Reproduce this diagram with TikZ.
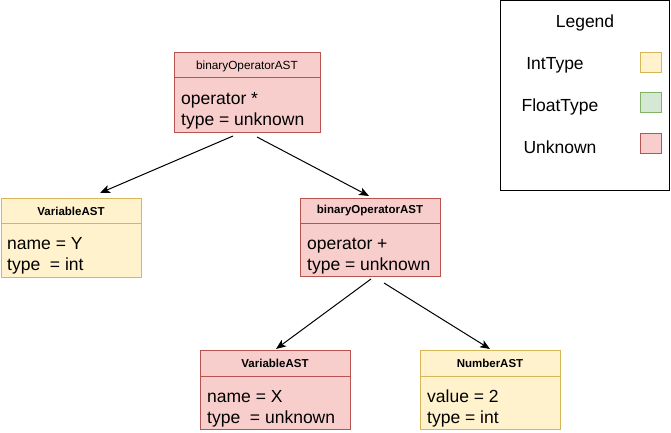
\documentclass[tikz,border=0pt]{standalone}
\usepackage{fontspec}
\setmainfont{Liberation Sans}
\usetikzlibrary{arrows.meta}
\definecolor{ylwF}{HTML}{FFF2CC}\definecolor{ylwD}{HTML}{D6B656}
\definecolor{grnF}{HTML}{D5E8D4}\definecolor{grnD}{HTML}{82B366}
\definecolor{redF}{HTML}{F8CECC}\definecolor{redD}{HTML}{B85450}
\tikzset{
  ybox/.style={draw=ylwD,fill=ylwF,line width=1pt},
  gbox/.style={draw=grnD,fill=grnF,line width=1pt},
  rbox/.style={draw=redD,fill=redF,line width=1pt},
  hdr/.style={anchor=center,inner sep=0pt,font=\fontsize{11.8}{14}\selectfont},
  hdrb/.style={anchor=center,inner sep=0pt,font=\fontsize{11.5}{14}\selectfont\bfseries},
  body/.style={anchor=base west,inner sep=0pt,font=\fontsize{17.5}{20}\selectfont},
  leg/.style={anchor=base,inner sep=0pt,font=\fontsize{17.5}{20}\selectfont},
  conn/.style={line width=1pt,-{Stealth[length=10pt,width=8pt,inset=2.5pt]}},
}
\begin{document}
\begin{tikzpicture}[x=1pt,y=-1pt]
\useasboundingbox (0,0) rectangle (671,433);
% top binary operator
\draw[rbox] (174,53) rectangle (320,132);
\draw[draw=redD,line width=1pt] (174,78) -- (320,78);
\node[hdr] (topH) at (247,66) {binaryOperatorAST};
\node[body] (topL1) at (181,104) {operator *};
\node[body] (topL2) at (181,125) {type = unknown};
% VariableAST Y
\draw[ybox] (1,198) rectangle (141,277);
\draw[draw=ylwD,line width=1pt] (1,223) -- (141,223);
\node[hdrb] (vyH) at (71,211) {VariableAST};
\node[body] (vyL1) at (7,249) {name = Y};
\node[body] (vyL2) at (7,270) {type \ = int};
% binary operator right
\draw[rbox] (300,198) rectangle (440,276);
\draw[draw=redD,line width=1pt] (300,223) -- (440,223);
\node[hdrb] (brH) at (370,211) {binaryOperatorAST};
\node[body] (brL1) at (307,249) {operator +};
\node[body] (brL2) at (307,270) {type = unknown};
% VariableAST X
\draw[rbox] (200,350) rectangle (350,429);
\draw[draw=redD,line width=1pt] (200,376) -- (350,376);
\node[hdrb] (vxH) at (275,363) {VariableAST};
\node[body] (vxL1) at (207,402) {name = X};
\node[body] (vxL2) at (207,423) {type \ = unknown};
% NumberAST
\draw[ybox] (420,350) rectangle (560,429);
\draw[draw=ylwD,line width=1pt] (420,376) -- (560,376);
\node[hdrb] (nmH) at (490,363) {NumberAST};
\node[body] (nmL1) at (427,402) {value = 2};
\node[body] (nmL2) at (427,423) {type = int};
% connectors
\coordinate (a1s) at (233,136); \coordinate (a1e) at (100,193);
\coordinate (a2s) at (257,137); \coordinate (a2e) at (369,196);
\coordinate (a3s) at (371,279); \coordinate (a3e) at (276,349);
\coordinate (a4s) at (384,283); \coordinate (a4e) at (490,349);
\draw[conn] (a1s) -- (a1e);
\draw[conn] (a2s) -- (a2e);
\draw[conn] (a3s) -- (a3e);
\draw[conn] (a4s) -- (a4e);
% legend
\draw[line width=1pt] (500,1) rectangle (669,190);
\node[leg] (legT) at (585,28) {Legend};
\node[leg] (legI) at (555,70) {IntType};
\node[leg] (legF) at (560,112) {FloatType};
\node[leg] (legU) at (560,153) {Unknown};
\draw[ybox] (640,53) rectangle (661,73);
\draw[gbox] (640,93) rectangle (661,113);
\draw[rbox] (640,133) rectangle (661,153);
\end{tikzpicture}
\end{document}
